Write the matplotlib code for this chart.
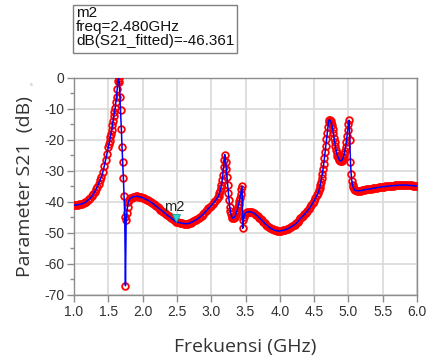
"""
plot.py
=======
Parameter S21 (dB) vs frekuensi: data simulasi (lingkaran merah) dan
kurva fitted (garis biru), dengan marker m2 di 2.48 GHz.
"""

import matplotlib
matplotlib.use("Agg")
import matplotlib.pyplot as plt
import matplotlib.patches as patches
from matplotlib.ticker import MultipleLocator


# =========================================================================== #
#  Data                                                   #
# =========================================================================== #
FREQ_GHZ = [
    # 1.00 - 1.50
    1.00, 1.02, 1.04, 1.06, 1.08, 1.10, 1.12, 1.14, 1.16, 1.18,
    1.20, 1.22, 1.24, 1.26, 1.28, 1.30, 1.32, 1.34, 1.36, 1.38,
    1.40, 1.42, 1.44, 1.46, 1.48, 1.50,
    # resonansi 1.65 GHz
    1.51, 1.52, 1.53, 1.54, 1.55, 1.56, 1.57, 1.58, 1.59, 1.60,
    1.61, 1.62, 1.63, 1.64, 1.65, 1.66, 1.67, 1.68, 1.69, 1.70,
    1.71, 1.72, 1.73, 1.74, 1.75, 1.76, 1.77, 1.78, 1.79, 1.80,
    # 1.82 - 3.10
    1.82, 1.84, 1.86, 1.88, 1.90, 1.92, 1.94, 1.96, 1.98, 2.00,
    2.02, 2.04, 2.06, 2.08, 2.10, 2.12, 2.14, 2.16, 2.18, 2.20,
    2.22, 2.24, 2.26, 2.28, 2.30, 2.32, 2.34, 2.36, 2.38, 2.40,
    2.42, 2.44, 2.46, 2.48, 2.50, 2.52, 2.54, 2.56, 2.58, 2.60,
    2.62, 2.64, 2.66, 2.68, 2.70, 2.72, 2.74, 2.76, 2.78, 2.80,
    2.82, 2.84, 2.86, 2.88, 2.90, 2.92, 2.94, 2.96, 2.98, 3.00,
    3.02, 3.04, 3.06, 3.08, 3.10,
    # resonansi 3.2 / 3.45 GHz
    3.11, 3.12, 3.13, 3.14, 3.15, 3.16, 3.17, 3.18, 3.19, 3.20,
    3.21, 3.22, 3.23, 3.24, 3.25, 3.26, 3.27, 3.28, 3.29, 3.30,
    3.31, 3.32, 3.33, 3.34, 3.35, 3.36, 3.37, 3.38, 3.39, 3.40,
    3.41, 3.42, 3.43, 3.44, 3.45, 3.46, 3.47, 3.48, 3.49, 3.50,
    # 3.52 - 4.54
    3.52, 3.54, 3.56, 3.58, 3.60, 3.62, 3.64, 3.66, 3.68, 3.70,
    3.72, 3.74, 3.76, 3.78, 3.80, 3.82, 3.84, 3.86, 3.88, 3.90,
    3.92, 3.94, 3.96, 3.98, 4.00, 4.02, 4.04, 4.06, 4.08, 4.10,
    4.12, 4.14, 4.16, 4.18, 4.20, 4.22, 4.24, 4.26, 4.28, 4.30,
    4.32, 4.34, 4.36, 4.38, 4.40, 4.42, 4.44, 4.46, 4.48, 4.50,
    4.52, 4.54,
    # resonansi 4.72 / 5.02 GHz
    4.56, 4.57, 4.58, 4.59, 4.60, 4.61, 4.62, 4.63, 4.64, 4.65,
    4.66, 4.67, 4.68, 4.69, 4.70, 4.71, 4.72, 4.73, 4.74, 4.75,
    4.76, 4.77, 4.78, 4.79, 4.80, 4.81, 4.82, 4.83, 4.84, 4.85,
    4.86, 4.87, 4.88, 4.89, 4.90, 4.91, 4.92, 4.93, 4.94, 4.95,
    4.96, 4.97, 4.98, 4.99, 5.00, 5.01, 5.02, 5.03, 5.04, 5.05,
    5.06, 5.07, 5.08, 5.09, 5.10,
    # 5.12 - 6.00
    5.12, 5.14, 5.16, 5.18, 5.20, 5.22, 5.24, 5.26, 5.28, 5.30,
    5.32, 5.34, 5.36, 5.38, 5.40, 5.42, 5.44, 5.46, 5.48, 5.50,
    5.52, 5.54, 5.56, 5.58, 5.60, 5.62, 5.64, 5.66, 5.68, 5.70,
    5.72, 5.74, 5.76, 5.78, 5.80, 5.82, 5.84, 5.86, 5.88, 5.90,
    5.92, 5.94, 5.96, 5.98, 6.00,
]

S21_DB = [
    # 1.00 - 1.50
    -41.0, -41.0, -41.0, -40.9, -40.8, -40.7, -40.6, -40.4, -40.2, -39.9,
    -39.5, -39.1, -38.7, -38.2, -37.6, -36.8, -36.0, -35.1, -34.1, -33.0,
    -31.9, -30.4, -28.6, -26.6, -24.5, -22.4,
    # resonansi 1.65 GHz
    -21.4, -20.3, -19.2, -18.0, -16.8, -15.3, -13.8, -12.4, -11.2, -9.8,
    -7.9, -6.1, -3.5, -1.0, -0.2, -1.5, -6.3, -10.5, -16.4, -22.3,
    -27.0, -32.4, -38.2, -45.0, -67.0, -46.0, -43.5, -41.5, -40.2, -39.5,
    # 1.82 - 3.10
    -38.9, -38.6, -38.4, -38.3, -38.2, -38.2, -38.3, -38.4, -38.5, -38.7,
    -38.9, -39.1, -39.3, -39.5, -39.8, -40.1, -40.4, -40.7, -41.1, -41.4,
    -41.8, -42.1, -42.5, -42.8, -43.2, -43.6, -43.9, -44.3, -44.6, -44.9,
    -45.3, -45.6, -46.0, -46.36, -46.4, -46.6, -46.7, -46.8, -46.9, -47.0,
    -47.0, -47.0, -47.0, -46.9, -46.7, -46.5, -46.3, -46.0, -45.8, -45.5,
    -45.2, -44.8, -44.4, -44.0, -43.6, -43.1, -42.6, -42.1, -41.7, -41.2,
    -40.7, -40.2, -39.6, -39.0, -38.4,
    # resonansi 3.2 / 3.45 GHz
    -38.0, -37.3, -36.5, -35.5, -34.5, -33.0, -31.2, -28.9, -26.5, -24.8,
    -27.0, -29.5, -32.0, -34.5, -37.0, -39.5, -41.5, -43.0, -44.0, -44.8,
    -45.2, -45.3, -45.2, -44.9, -44.5, -44.0, -43.3, -42.6, -41.7, -40.8,
    -39.8, -38.7, -37.4, -35.9, -35.0, -48.5, -46.0, -44.8, -44.0, -43.6,
    # 3.52 - 4.54
    -43.3, -43.2, -43.2, -43.3, -43.4, -43.6, -43.9, -44.3, -44.7, -45.1,
    -45.5, -46.0, -46.4, -46.9, -47.3, -47.7, -48.0, -48.4, -48.7, -48.9,
    -49.1, -49.2, -49.3, -49.4, -49.4, -49.3, -49.2, -49.1, -49.0, -48.8,
    -48.6, -48.4, -48.1, -47.9, -47.6, -47.3, -46.9, -46.5, -45.9, -45.3,
    -44.9, -44.5, -44.0, -43.5, -43.0, -42.4, -41.8, -41.1, -40.4, -39.6,
    -38.8, -37.9,
    # resonansi 4.72 / 5.02 GHz
    -37.0, -36.3, -35.6, -34.6, -33.5, -32.2, -30.9, -29.5, -27.8, -26.0,
    -24.0, -22.0, -19.8, -17.8, -15.8, -14.3, -13.6, -13.7, -14.0, -14.6,
    -15.4, -16.5, -17.8, -19.3, -20.8, -22.1, -23.3, -24.3, -25.1, -25.7,
    -26.2, -26.6, -26.8, -26.8, -26.7, -26.4, -26.0, -25.4, -24.6, -23.5,
    -22.2, -20.6, -18.8, -16.8, -14.8, -13.7, -20.0, -27.0, -31.0, -33.2,
    -34.5, -35.3, -35.8, -36.1, -36.3,
    # 5.12 - 6.00
    -36.4, -36.4, -36.4, -36.4, -36.3, -36.2, -36.1, -36.0, -36.0, -35.9,
    -35.8, -35.7, -35.6, -35.6, -35.5, -35.4, -35.3, -35.3, -35.2, -35.1,
    -35.1, -35.0, -35.0, -34.9, -34.9, -34.8, -34.8, -34.8, -34.7, -34.7,
    -34.7, -34.6, -34.6, -34.6, -34.6, -34.6, -34.6, -34.6, -34.7, -34.7,
    -34.7, -34.8, -34.8, -34.9, -34.9,
]

M2_FREQ = 2.480
M2_DB = -46.361
M2_NAME = "m2"

X_TICKS = [1.0, 1.5, 2.0, 2.5, 3.0, 3.5, 4.0, 4.5, 5.0, 5.5, 6.0]
Y_TICKS = [0, -10, -20, -30, -40, -50, -60, -70]

X_LABEL = "Frekuensi (GHz)"
Y_LABEL = "Parameter S21  (dB)"


def main() -> None:
    plt.rcParams["axes.unicode_minus"] = False
    plt.rcParams["font.family"] = ["Liberation Sans", "DejaVu Sans"]

    fig = plt.figure(figsize=(4.28, 3.60), dpi=100)
    ax = fig.add_axes([0.1729, 0.1806, 0.8014, 0.6036])

    # data (lingkaran merah) + kurva fitted (biru)
    ax.plot(FREQ_GHZ, S21_DB, "o", mfc="none", mec="#ff0000", ms=4.8,
            mew=1.3, zorder=3)
    ax.plot(FREQ_GHZ, S21_DB, "-", color="#0000ff", lw=1.1, zorder=4)

    # marker m2
    ax.plot(M2_FREQ, M2_DB + 1.2, "v", color="#2ad4d4", mec="#1a9a9a",
            ms=6, mew=0.6, zorder=5)
    ax.text(M2_FREQ - 0.02, M2_DB + 2.6, M2_NAME, fontsize=10.5,
            ha="center", va="bottom", color="#222222", zorder=6)

    ax.set_xlim(1.0, 6.0)
    ax.set_ylim(-70, 0)
    ax.set_xticks(X_TICKS)
    ax.set_xticklabels([f"{t:.1f}" for t in X_TICKS])
    ax.set_yticks(Y_TICKS)
    ax.set_yticklabels([str(t) for t in Y_TICKS])
    ax.yaxis.set_minor_locator(MultipleLocator(5))

    ax.grid(True, which="major", color="#dcdcdc", lw=1.3)
    ax.set_axisbelow(True)
    for sp in ax.spines.values():
        sp.set_color("#8c8c8c")
        sp.set_linewidth(1.0)

    ax.tick_params(which="major", direction="out", length=5, width=1.0,
                   color="#8c8c8c", labelsize=10, labelcolor="#333333",
                   pad=2)
    ax.tick_params(which="minor", direction="out", length=3, width=1.0,
                   color="#8c8c8c")

    ax.set_xlabel(X_LABEL, family="Open Sans", fontsize=14,
                  color="#333333", labelpad=14)
    ax.set_ylabel(Y_LABEL, family="Open Sans", fontsize=14,
                  color="#333333", labelpad=7)

    # kotak keterangan marker di atas plot
    box = patches.Rectangle((73 / 428, 1 - 53 / 360), 164 / 428, 48 / 360,
                            transform=fig.transFigure, fill=True,
                            facecolor="white", edgecolor="#7f7f7f", lw=1.0)
    fig.patches.append(box)
    fig.text(76 / 428, 1 - 6 / 360,
             f"{M2_NAME}\nfreq={M2_FREQ:.3f}GHz\n"
             f"dB(S21_fitted)={M2_DB:.3f}",
             fontsize=11, va="top", ha="left", linespacing=0.98,
             color="#111111")
    fig.text(31 / 428, 1 - 84 / 360, "s", fontsize=4, color="#aaaaaa",
             ha="center", va="center")

    fig.savefig("out.png", dpi=100)
    plt.close(fig)


if __name__ == "__main__":
    main()
